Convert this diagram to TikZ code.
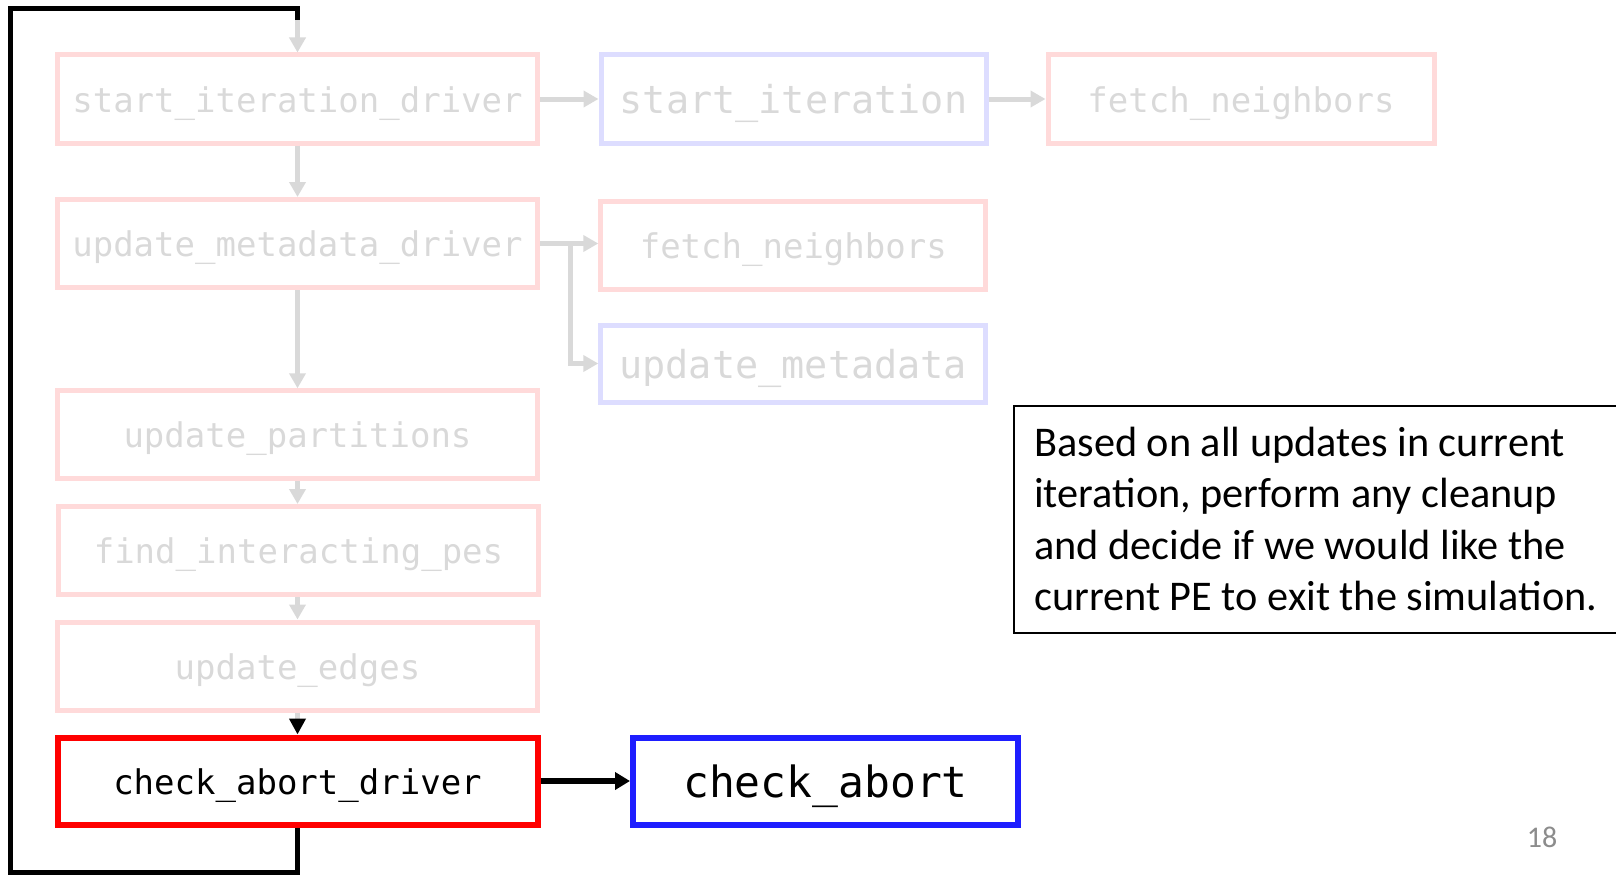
\documentclass[tikz,border=0pt]{standalone}
\usepackage{fontspec}
\usetikzlibrary{arrows.meta}
\newfontfamily\codefont{DejaVu Sans Mono}
\newfontfamily\bodyfont{Carlito}

\definecolor{pinkline}{RGB}{255,218,218}
\definecolor{lavline}{RGB}{221,221,255}
\definecolor{fadegray}{RGB}{217,217,217}
\definecolor{hotred}{RGB}{255,0,0}
\definecolor{hotblue}{RGB}{30,30,255}
\definecolor{pagegray}{RGB}{140,140,140}

\tikzset{
  x=1pt, y=-1pt,
  fadedbox/.style={draw=pinkline, line width=5pt, text=fadegray, inner sep=0pt,
    minimum width=480pt, minimum height=88pt,
    text height=28pt, text depth=2pt,
    font=\codefont\fontsize{34}{40}\selectfont},
  fadedblue/.style={fadedbox, draw=lavline, minimum width=385pt,
    text height=31pt, text depth=2pt,
    font=\codefont\fontsize{38.5}{44}\selectfont},
  activebox/.style={draw=hotred, line width=6pt, text=black, inner sep=0pt,
    minimum width=480pt, minimum height=87pt,
    text height=28pt, text depth=2pt,
    font=\codefont\fontsize{34}{40}\selectfont},
  activeblue/.style={activebox, draw=hotblue, minimum width=385pt,
    text height=35pt, text depth=2pt,
    font=\codefont\fontsize{43}{50}\selectfont},
  grayarrow/.style={draw=fadegray, line width=5pt,
    -{Triangle[length=15pt, width=16pt]}},
  grayarrowblk/.style={draw=fadegray, line width=5pt,
    -{Triangle[length=16pt, width=16pt, color=black]}},
  blackarrow/.style={draw=black, line width=5.5pt,
    -{Triangle[length=15pt, width=17pt]}},
  loopline/.style={draw=black, line width=5pt},
  notebox/.style={draw=black, line width=2pt},
}

\begin{document}
\begin{tikzpicture}
  \useasboundingbox (0,0) rectangle (1616,875);
  \clip (0,0) rectangle (1616,875);

  % left column of driver stages
  \node[fadedbox] (sid) at (297.5,99)    {start\_iteration\_driver};
  \node[fadedbox] (umd) at (297.5,243.5) {update\_metadata\_driver};
  \node[fadedbox] (upa) at (297.5,434.8) {update\_partitions};
  \node[fadedbox] (fip) at (298.5,550.5) {find\_interacting\_pes};
  \node[fadedbox] (ued) at (297.5,666)   {update\_edges};
  \node[activebox] (cad) at (297.5,781)  {check\_abort\_driver};

  % handlers called by the drivers
  \node[fadedblue] (sit) at (793.5,99) {start\_iteration};
  \node[fadedbox, minimum width=386pt] (fn1) at (1241,99) {fetch\_neighbors};
  \node[fadedbox, minimum width=385pt] (fn2) at (793.3,245) {fetch\_neighbors};
  \node[fadedblue, minimum height=77pt] (umt) at (793.3,363.5) {update\_metadata};
  \node[activeblue] (cab) at (825.5,781) {check\_abort};

  % loop back to the start of the next iteration
  \coordinate (loopbl) at (10,872);
  \coordinate (looptl) at (10,8.5);
  \coordinate (looptr) at (297.5,8.5);
  \coordinate (loopjn) at (297.5,20);
  \draw[loopline] (cad.south) |- (loopbl) -- (looptl) -- (looptr) -- (loopjn);
  \draw[grayarrow] (loopjn) -- (sid.north);

  % faded flow
  \draw[grayarrow] (sid.east) -- (sit.west);
  \draw[grayarrow] (sit.east) -- (fn1.west);
  \draw[grayarrow] (sid.south) -- (umd.north);
  \draw[grayarrow] (umd.east) -- (fn2.west |- umd.east);
  \coordinate (branch) at (570,243.5);
  \draw[grayarrow] (branch) |- (umt.west);
  \draw[grayarrow] (umd.south) -- (upa.north);
  \draw[grayarrow] (upa.south) -- (upa.south |- fip.north);
  \draw[grayarrow] (fip.south -| ued.south) -- (ued.north);
  \draw[grayarrowblk] (ued.south) -- (cad.north);

  % active call
  \draw[blackarrow] (cad.east) -- (cab.west);

  % description
  \draw[notebox] (1640,406) -- (1014,406) -- (1014,633) -- (1640,633);
  \node[anchor=north west, inner sep=0pt, align=left,
        font=\bodyfont\fontsize{42.3}{51.5}\selectfont] (note) at (1034,426.5)
    {Based on all updates in current\\
     iteration, perform any cleanup\\
     and decide if we would like the\\
     current PE to exit the simulation.};

  % slide number
  \node[anchor=base, inner sep=0pt, text=pagegray,
        font=\bodyfont\fontsize{30}{36}\selectfont] (pgno) at (1542,847) {18};
\end{tikzpicture}
\end{document}
